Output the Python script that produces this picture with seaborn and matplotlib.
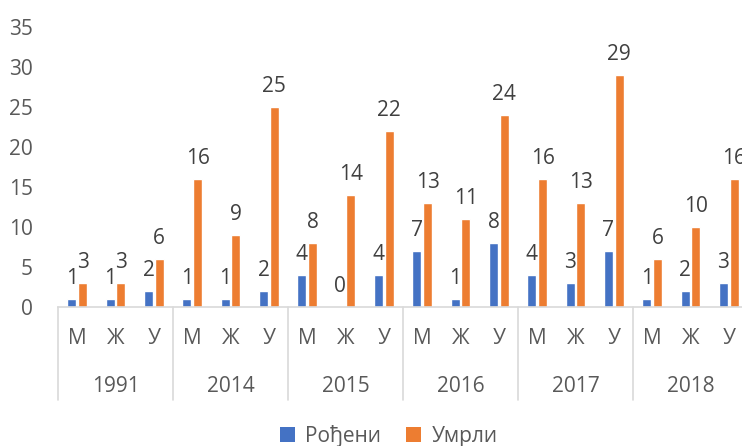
import matplotlib
matplotlib.use("Agg")
import matplotlib.pyplot as plt
import seaborn as sns
import pandas as pd
from matplotlib.patches import Patch

years = ["1991", "2014", "2015", "2016", "2017", "2018"]
sexes = ["М", "Ж", "У"]
series = ["Рођени", "Умрли"]
born = [1, 1, 2, 1, 1, 2, 4, 0, 4, 7, 1, 8, 4, 3, 7, 1, 2, 3]
died = [3, 3, 6, 16, 9, 25, 8, 14, 22, 13, 11, 24, 16, 13, 29, 6, 10, 16]
colors = ["#4472C4", "#ED7D31"]

sns.set_theme(style="white")
plt.rcParams["font.family"] = ["Open Sans", "DejaVu Sans"]

n = len(born)
df = pd.DataFrame({
    "slot": list(range(n)) * 2,
    "value": born + died,
    "series": [series[0]] * n + [series[1]] * n,
})

W, H = 742, 446
FS = 15
fig = plt.figure(figsize=(W / 100, H / 100), dpi=100)
ax = fig.add_axes([58 / W, 139 / H, 690 / W, 280 / H])

sns.barplot(data=df, x="slot", y="value", hue="series", order=list(range(n)),
            hue_order=series, palette=colors, width=0.56, gap=0.16,
            saturation=1, ax=ax, legend=False)

ax.set_ylim(0, 35)
ax.set_xlim(-0.5, n - 0.5)
ax.set_yticks(range(0, 36, 5))
ax.tick_params(axis="y", labelsize=FS, colors="#595959", pad=18, length=0)
ax.tick_params(axis="x", length=0, labelbottom=False)
ax.set_xlabel("")
ax.set_ylabel("")
for s in ["top", "right", "left"]:
    ax.spines[s].set_visible(False)
ax.spines["bottom"].set_color("#d9d9d9")
ax.spines["bottom"].set_linewidth(1.2)

# data labels
for cont in ax.containers:
    for rect in cont:
        h = rect.get_height()
        ax.annotate(f"{int(round(h))}", (rect.get_x() + rect.get_width() / 2, h),
                    xytext=(0, 7), textcoords="offset points", ha="center", va="bottom",
                    fontsize=FS, color="#404040")

# multi-level category axis
trans = ax.get_xaxis_transform()
axh = 280.0
for i in range(n):
    ax.text(i, -32 / axh, sexes[i % 3], transform=trans, ha="center", va="center",
            fontsize=FS, color="#595959", clip_on=False)
for j, y in enumerate(years):
    ax.text(3 * j + 1, -79 / axh, y, transform=trans, ha="center", va="center",
            fontsize=FS, color="#595959", clip_on=False)
for b in range(0, n + 1, 3):
    ax.plot([b - 0.5, b - 0.5], [0, -93 / axh], transform=trans, color="#d9d9d9",
            lw=1.2, clip_on=False)

handles = [Patch(facecolor=c, edgecolor="none") for c in colors]
fig.legend(handles, series, loc="center", bbox_to_anchor=(389 / W, 1 - 436 / H),
           ncol=2, frameon=False, fontsize=FS, handlelength=0.7, handleheight=0.7,
           handletextpad=0.5, columnspacing=1.2, labelcolor="#595959")

fig.savefig("out.png", dpi=100)
